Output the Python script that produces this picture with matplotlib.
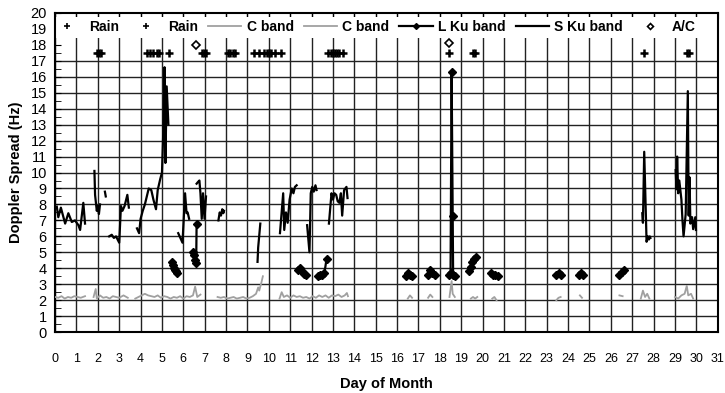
import matplotlib
matplotlib.use('Agg')
import matplotlib.pyplot as plt
import numpy as np

plt.rcParams['font.family'] = ['Liberation Sans', 'DejaVu Sans']

nan = np.nan

# Rain gauge flags (day of month), plotted at a fixed level
rain1_days = [1.95, 2.05, 2.15, 4.3, 4.45, 4.6, 4.75, 4.85, 5.35,
              6.85, 6.95, 7.05, 8.1, 8.2, 8.3, 8.4]
rain2_days = [9.3, 9.55, 9.75, 9.9, 10.0, 10.1, 10.3, 10.55,
              12.75, 12.9, 13.0, 13.1, 13.2, 13.3, 13.45,
              18.45, 19.55, 19.65, 27.55, 29.55, 29.65]
rain_level = 17.5

# A/C (aircraft) events
ac_days = [6.58, 18.45]
ac_vals = [18.0, 18.1]

# C band (two gray traces, nan = gap)
c1_days = [0.0, 0.15, 0.3, 0.45, 0.6, 0.75, 0.9, 1.05, 1.2, 1.4, nan,
           1.8, 1.9, 1.95, 2.1, 2.25, 2.4, 2.55, 2.7, 2.85, 3.0, 3.2, 3.4, nan,
           3.75, 3.9, 4.05, 4.2, 4.35, 4.5, 4.65, 4.8, 4.95, 5.1, 5.25, 5.4,
           5.55, 5.7, 5.85, 6.0, 6.15, 6.3, 6.45, 6.55, 6.65, 6.8, nan,
           7.6, 7.75, 7.9, 8.05, 8.2, 8.35, 8.5, 8.65, 8.8, 8.95, 9.1, 9.25,
           9.4, 9.5, 9.55, 9.65, 9.72]
c1_vals = [2.2, 2.15, 2.25, 2.1, 2.2, 2.15, 2.25, 2.2, 2.15, 2.25, nan,
           2.2, 2.7, 2.1, 2.3, 2.15, 2.2, 2.1, 2.25, 2.2, 2.15, 2.3, 2.15, nan,
           2.1, 2.2, 2.3, 2.4, 2.3, 2.25, 2.2, 2.3, 2.15, 2.25, 2.2, 2.1,
           2.2, 2.15, 2.25, 2.1, 2.25, 2.2, 2.3, 2.85, 2.2, 2.35, nan,
           2.2, 2.15, 2.2, 2.1, 2.15, 2.2, 2.1, 2.15, 2.2, 2.1, 2.15, 2.25,
           2.4, 2.8, 2.6, 3.1, 3.5]
c2_days = [10.5, 10.6, 10.7, 10.85, 11.0, 11.15, 11.3, 11.45, 11.6, 11.75,
           11.9, 12.05, 12.2, 12.35, 12.5, 12.65, 12.8, 12.95, 13.1, 13.25,
           13.4, 13.55, 13.65, 13.7, nan,
           16.5, 16.6, 16.7, nan, 17.45, 17.55, 17.65, nan,
           18.45, 18.55, 18.6, 18.7, nan, 19.45, 19.55, 19.65, 19.75, nan,
           20.45, 20.55, 20.65, nan, 23.45, 23.55, 23.65, nan,
           24.55, 24.65, nan, 26.4, 26.55, nan,
           27.4, 27.5, 27.6, 27.7, 27.8, nan,
           29.0, 29.15, 29.3, 29.45, 29.55, 29.62, 29.75, 29.85]
c2_vals = [2.1, 2.5, 2.2, 2.3, 2.15, 2.3, 2.2, 2.25, 2.15, 2.2,
           2.1, 2.25, 2.15, 2.3, 2.2, 2.3, 2.15, 2.3, 2.25, 2.35,
           2.2, 2.3, 2.45, 2.25, nan,
           2.1, 2.3, 2.15, nan, 2.15, 2.35, 2.2, nan,
           2.2, 3.2, 2.4, 2.2, nan, 2.1, 2.2, 2.1, 2.2, nan,
           2.1, 2.2, 2.0, nan, 2.0, 2.15, 2.2, nan,
           2.3, 2.15, nan, 2.3, 2.25, nan,
           2.1, 2.6, 2.2, 2.4, 2.1, nan,
           2.2, 2.1, 2.3, 2.4, 2.9, 2.3, 2.4, 2.1]

# L Ku band (line with diamonds)
lku_days = [5.45, 5.5, 5.55, 5.6, 5.65, 5.7, nan,
            6.47, 6.5, 6.55, 6.6, 6.62, nan,
            11.35, 11.45, 11.55, 11.65, 11.75, nan,
            12.3, 12.4, 12.5, 12.6, 12.7, nan,
            16.4, 16.5, 16.6, 16.7, nan,
            17.45, 17.55, 17.65, 17.75, nan,
            18.45, 18.5, 18.55, 18.6, 18.62, 18.7, nan,
            19.35, 19.45, 19.5, 19.6, 19.7, nan,
            20.4, 20.5, 20.6, 20.7, nan,
            23.45, 23.55, 23.65, nan,
            24.5, 24.6, 24.7, nan,
            26.4, 26.5, 26.6]
lku_vals = [4.4, 4.2, 4.0, 3.9, 3.8, 3.7, nan,
            5.0, 4.8, 4.5, 4.3, 6.8, nan,
            3.9, 4.0, 3.8, 3.65, 3.6, nan,
            3.5, 3.6, 3.6, 3.7, 4.6, nan,
            3.5, 3.7, 3.6, 3.5, nan,
            3.6, 3.9, 3.7, 3.6, nan,
            3.6, 3.7, 16.3, 7.3, 3.6, 3.5, nan,
            3.8, 4.1, 4.4, 4.6, 4.7, nan,
            3.7, 3.6, 3.6, 3.5, nan,
            3.6, 3.7, 3.55, nan,
            3.6, 3.7, 3.6, nan,
            3.6, 3.75, 3.9]

# S Ku band (plain black line)
sku_days = [0.08, 0.15, 0.27, 0.47, 0.62, 0.78, 0.93, 1.09, 1.17, 1.32, 1.40, nan,
            1.84, 1.87, 1.95, 2.0, 2.05, 2.1, nan, 2.33, 2.37, nan,
            2.53, 2.65, 2.75, 2.85, 3.0, 3.08, 3.15, 3.25, 3.38, 3.45, nan,
            3.83, 3.93, 4.0, 4.1, 4.2, 4.38, 4.5, 4.6, 4.72, 4.8, 4.92, 5.0,
            5.06, 5.12, 5.16, 5.22, 5.3, nan,
            5.76, 5.96, 6.08, 6.15, 6.2, 6.27, nan,
            6.62, 6.68, 6.75, 6.8, 6.86, 6.92, 6.99, 7.06, nan,
            7.64, 7.7, 7.76, 7.82, 7.87, 7.9, nan,
            9.47, 9.5, 9.6, nan,
            10.52, 10.67, 10.72, 10.8, 10.88, 10.97, 11.07, 11.15, 11.22, 11.3, nan,
            11.79, 11.9, 11.96, 12.03, 12.1, 12.18, 12.23, nan,
            12.81, 12.93, 13.0, 13.07, 13.15, 13.22, 13.3, 13.37, 13.43, 13.52, 13.63, 13.68, nan,
            27.47, 27.5, 27.56, 27.62, 27.67, 27.73, 27.78, 27.82, 27.85, nan,
            29.03, 29.07, 29.1, 29.15, 29.2, 29.3, 29.35, 29.4, 29.5, 29.6,
            29.64, 29.68, 29.72, 29.8, 29.85, 29.95, 29.98]
sku_vals = [7.86, 7.2, 7.8, 6.8, 7.45, 6.9, 7.0, 6.7, 6.4, 8.1, 6.8, nan,
            10.1, 8.6, 7.6, 7.9, 7.4, 8.0, nan, 8.8, 8.5, nan,
            6.0, 6.1, 5.9, 6.0, 5.6, 7.9, 7.6, 7.9, 8.6, 7.8, nan,
            6.5, 6.2, 7.1, 7.6, 8.0, 9.0, 8.9, 8.3, 7.7, 8.9, 9.6, 10.0,
            12.5, 16.6, 10.6, 15.4, 13.0, nan,
            6.2, 5.6, 8.7, 7.45, 7.5, 7.1, nan,
            9.3, 9.4, 9.5, 8.7, 7.1, 8.7, 7.1, 8.5, nan,
            7.0, 7.5, 7.3, 7.7, 7.45, 7.6, nan,
            4.4, 5.3, 6.8, nan,
            6.2, 8.7, 6.4, 7.5, 6.85, 8.3, 9.0, 8.7, 9.1, 9.2, nan,
            6.7, 5.0, 8.7, 9.1, 8.8, 9.2, 8.9, nan,
            6.8, 8.7, 8.3, 8.7, 8.6, 8.2, 8.1, 8.7, 7.3, 8.9, 9.1, 8.4, nan,
            7.45, 6.85, 11.3, 8.2, 5.66, 6.0, 5.8, 6.0, 5.9, nan,
            10.15, 8.95, 11.0, 8.7, 9.5, 8.3, 7.0, 6.0, 7.4, 15.1,
            7.3, 9.7, 6.8, 7.2, 6.45, 7.2, 6.4]

fig = plt.figure(figsize=(7.25, 3.93), dpi=100)
ax = fig.add_axes([0.076, 0.155, 0.914, 0.812])

# grid drawn by hand so the top band (legend area) stays clear
for d in range(0, 32):
    ax.axvline(d, color='#222222', lw=1.0, zorder=1)
for v in range(1, 18):
    ax.axhline(v, color='#222222', lw=1.0, zorder=1)
# white band behind the legend row
ax.axhspan(18.45, 19.75, color='white', zorder=2, lw=0)

ax.plot(c1_days, c1_vals, color='#a0a0a0', lw=1.3, label='C band', zorder=3)
ax.plot(c2_days, c2_vals, color='#a0a0a0', lw=1.3, label='C band', zorder=3)
ax.plot(lku_days, lku_vals, color='black', lw=1.6, marker='D', ms=4.5,
        label='L Ku band', zorder=4)
ax.plot(sku_days, sku_vals, color='black', lw=1.6, label='S Ku band', zorder=4)
ax.plot(rain1_days, [rain_level] * len(rain1_days), ls='none', marker='+',
        ms=6, mew=1.8, color='black', label='Rain', zorder=4)
ax.plot(rain2_days, [rain_level] * len(rain2_days), ls='none', marker='+',
        ms=6, mew=1.8, color='black', label='Rain', zorder=4)
ax.plot(ac_days, ac_vals, ls='none', marker='D', ms=3.6, mfc='white',
        mec='black', mew=1.2, label='A/C', zorder=4)

h, l = ax.get_legend_handles_labels()
order = [4, 5, 0, 1, 2, 3, 6]
leg = ax.legend([h[i] for i in order], [l[i] for i in order], ncol=7,
                loc='center', bbox_to_anchor=(0.48, 0.955), frameon=False,
                borderpad=0.0, handlelength=2.4,
                columnspacing=0.7, handletextpad=0.4,
                prop={'weight': 'bold', 'size': 10})
leg.set_zorder(5)
leg.legend_handles[0].set_markersize(4)
leg.legend_handles[0].set_markeredgewidth(1.2)
leg.legend_handles[1].set_markersize(4)
leg.legend_handles[1].set_markeredgewidth(1.2)
leg.legend_handles[4].set_markersize(3)
leg.legend_handles[6].set_markersize(3)

ax.set_xlim(0, 31)
ax.set_ylim(0, 20)
ax.set_xticks(range(0, 32))
ax.set_yticks(range(0, 21))
ax.set_yticks(np.arange(0.5, 20, 1), minor=True)
ax.tick_params(axis='x', direction='in', top=True, bottom=False, length=4,
               labelsize=9, pad=15)
ax.tick_params(axis='y', which='both', direction='in', length=4,
               labelsize=10.5, pad=6)
for s in ax.spines.values():
    s.set_linewidth(1.5)

ax.set_xlabel('Day of Month', fontweight='bold', fontsize=10.5, labelpad=9)
ax.set_ylabel('Doppler Spread (Hz)', fontweight='bold', fontsize=10.5, labelpad=5)

plt.savefig('out.png', dpi=100)
